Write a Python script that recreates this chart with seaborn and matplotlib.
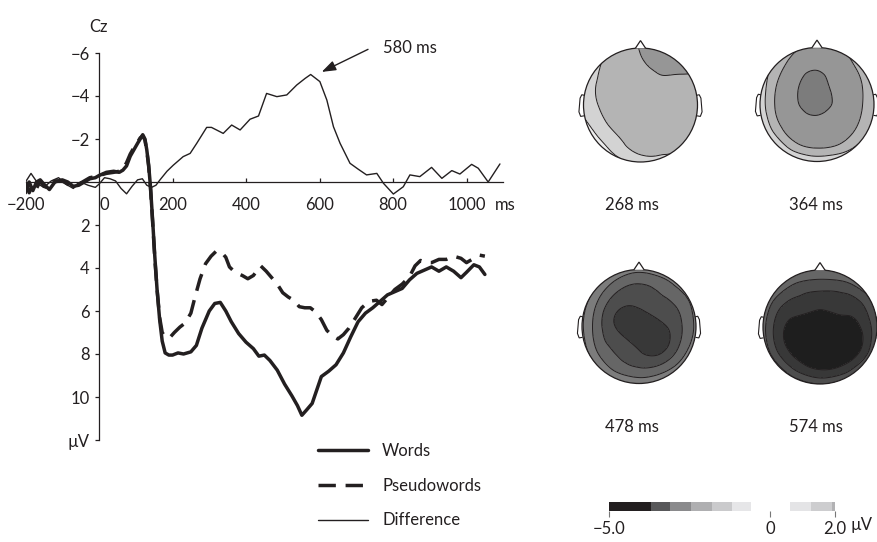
import numpy as np
import matplotlib
matplotlib.use("Agg")
import matplotlib.pyplot as plt
import matplotlib.tri as mtri
import seaborn as sns
from matplotlib.patches import Circle, Polygon
from matplotlib.colors import ListedColormap, BoundaryNorm
from matplotlib.cm import ScalarMappable
from matplotlib.ticker import NullLocator

# ---------------- data ----------------
words_t = [-200, -190, -180, -170, -160, -150, -135, -120, -100, -85, -70, -55, -40, -25, -10,
           0, 20, 40, 55, 65, 75, 85, 95, 105, 112, 119, 125, 130, 135, 140, 146, 152, 158, 165, 172,
           180, 190, 200, 215, 230, 250, 265, 280, 300, 315, 330, 345, 360, 380, 400, 420, 435, 450,
           465, 485, 505, 525, 540, 552, 565, 580, 592, 605, 625, 645, 665, 685, 705, 725, 745, 765,
           785, 805, 825, 845, 865, 885, 905, 925, 945, 965, 985, 1000, 1020, 1035, 1050]
words_v = [0.5, 0.0, 0.4, 0.0, -0.1, 0.1, 0.35, 0.0, -0.1, 0.0, 0.2, 0.15, 0.0, -0.15, -0.2,
           -0.3, -0.45, -0.5, -0.45, -0.55, -0.75, -1.2, -1.5, -1.8, -2.0, -2.2, -2.0, -1.5, -0.8, 0.2,
           1.8, 3.5, 5.0, 6.4, 7.4,
           7.95, 8.05, 8.05, 7.95, 8.0, 7.9, 7.6, 6.8, 6.0, 5.65, 5.6, 6.0, 6.5, 7.05, 7.45, 7.75, 8.1,
           8.05, 8.3, 8.75, 9.4, 9.95, 10.4, 10.85, 10.6, 10.3, 9.7, 9.05, 8.8, 8.5, 7.95, 7.2, 6.5,
           6.1, 5.85, 5.55, 5.25, 5.1, 4.95, 4.55, 4.25, 4.1, 3.95, 4.15, 3.95, 4.15, 4.45, 4.2, 3.85,
           3.95, 4.3]

pseudo_t = [-200, -190, -180, -170, -160, -150, -135, -120, -100, -85, -70, -55, -40, -25, -10,
            0, 20, 40, 55, 65, 75, 85, 95, 105, 112, 119, 125, 130, 135, 140, 146, 152, 158, 165, 172,
            180, 192, 205, 220, 235, 250, 262, 275, 290, 305, 320, 335, 345, 355, 370, 390, 405, 420,
            440, 455, 470, 485, 500, 515, 530, 545, 560, 575, 590, 605, 620, 635, 650, 665, 680, 695,
            715, 735, 755, 770, 785, 805, 825, 845, 860, 875, 890, 905, 925, 945, 965, 985, 1000,
            1020, 1035, 1050]
pseudo_v = [0.0, 0.5, 0.1, 0.3, -0.05, 0.2, 0.3, -0.05, -0.05, 0.1, 0.25, 0.1, -0.05, -0.2, -0.25,
            -0.3, -0.4, -0.45, -0.5, -0.6, -0.9, -1.3, -1.6, -1.85, -2.05, -2.15, -1.95, -1.45, -0.75,
            0.25, 1.9, 3.6, 5.0, 6.3, 7.0,
            7.2, 7.25, 7.0, 6.75, 6.55, 6.1, 5.3, 4.5, 3.8, 3.45, 3.2, 3.3, 3.5, 3.95, 4.2, 4.35, 4.5,
            4.35, 3.9, 4.15, 4.45, 4.75, 5.15, 5.35, 5.5, 5.8, 5.85, 5.85, 6.05, 6.4, 6.9, 7.15, 7.3,
            7.1, 6.8, 6.4, 5.85, 5.55, 5.5, 5.7, 5.4, 5.0, 4.75, 4.4, 3.9, 3.65, 3.75, 3.75, 3.6, 3.6,
            3.45, 3.55, 3.75, 3.55, 3.4, 3.45]

diff_t = [-200, -185, -165, -150, -130, -110, -90, -70, -50, -30, -10, 0, 15, 30, 45, 60, 75, 90,
          105, 118, 130, 143, 155, 166, 185, 202, 229, 248, 266, 293, 306, 329, 338, 361, 384, 411,
          434, 456, 484, 511, 538, 561, 576, 601, 620, 638, 656, 683, 705, 728, 756, 774, 801, 828,
          846, 873, 905, 933, 960, 982, 1014, 1032, 1059, 1091]
diff_v = [0.0, -0.4, 0.1, 0.25, -0.05, -0.2, 0.1, 0.3, 0.0, 0.15, 0.25, 0.1, -0.2, -0.15, -0.05,
          0.3, 0.55, 0.2, -0.1, -0.15, 0.15, 0.25, 0.15, -0.1, -0.5, -0.78, -1.18, -1.33, -1.8,
          -2.54, -2.54, -2.34, -2.26, -2.65, -2.42, -2.92, -3.07, -4.12, -3.97, -4.05, -4.51, -4.82,
          -5.0, -4.67, -3.81, -2.57, -1.8, -0.87, -0.6, -0.33, -0.4, 0.06, 0.56, 0.22, -0.33, -0.25,
          -0.68, -0.17, -0.53, -0.37, -0.82, -0.64, 0.0, -0.84]

series_names = ["Words", "Pseudowords", "Difference"]

x_ticks = [-200, 0, 200, 400, 600, 800, 1000]
x_ticklabels = ["\u2212200", "0", "200", "400", "600", "800", "1000"]
y_ticks = [-6, -4, -2, 2, 4, 6, 8, 10, 12]
y_ticklabels = ["\u22126", "\u22124", "\u22122", "2", "4", "6", "8", "10", "\u00b5V"]

peak_label = "580 ms"
peak_xy = (606, -5.12)        # arrow head (ms, uV)
peak_tail = (732, -6.17)      # arrow tail

# topographic maps: sample rings (radius in head radii, number of points, clockwise from nose)
topo_ring_r = [0.0, 0.45, 0.8, 1.15]
topo_ring_n = [1, 8, 12, 16]
# values (uV): centre, ring1 (8), ring2 (12), ring3 (16)
topo_268 = [[-1.75],
            [-1.85, -1.9, -1.8, -1.75, -1.7, -1.65, -1.7, -1.75],
            [-1.97, -2.1, -1.9, -1.8, -1.7, -1.6, -1.6, -1.35, -1.3, -1.45, -1.55, -1.65],
            [-2.05, -2.3, -2.3, -1.9, -1.8, -1.7, -1.5, -1.35, -0.85, -0.6, -0.4, -0.5, -1.1,
             -1.3, -1.45, -1.65]]
topo_364 = [[-2.65],
            [-2.6, -2.4, -2.35, -2.3, -2.35, -2.35, -2.4, -2.5],
            [-2.3, -2.2, -2.1, -2.0, -2.0, -2.0, -1.9, -1.9, -1.85, -1.85, -2.0, -2.2],
            [-1.95, -1.95, -1.75, -1.5, -1.4, -1.3, -1.0, -0.5, -0.3, -0.3, -0.3, -0.4, -0.5, -0.8,
             -1.4, -1.8]]
topo_478 = [[-4.35],
            [-3.85, -3.75, -4.05, -4.3, -3.95, -3.75, -3.95, -4.0],
            [-3.4, -3.35, -3.4, -3.4, -3.45, -3.4, -3.3, -3.25, -3.15, -3.05, -3.15, -3.3],
            [-2.3, -2.3, -2.4, -2.5, -2.5, -2.4, -2.3, -2.1, -2.0, -1.9, -1.9, -1.9, -2.0, -2.0,
             -2.1, -2.2]]
topo_574 = [[-4.85],
            [-4.3, -4.4, -4.7, -4.9, -4.85, -4.8, -4.7, -4.35],
            [-3.6, -3.8, -4.1, -4.3, -4.55, -4.45, -4.35, -4.25, -4.2, -4.05, -3.9, -3.7],
            [-2.6, -2.6, -2.8, -2.9, -3.0, -3.0, -2.9, -2.8, -2.7, -2.7, -2.7, -2.7, -2.7, -2.7,
             -2.6, -2.6]]
topo_maps = [topo_268, topo_364, topo_478, topo_574]
topo_labels = ["268 ms", "364 ms", "478 ms", "574 ms"]
topo_levels = [-5.5, -5.0, -4.5, -4.0, -3.5, -3.0, -2.5, -2.0, -1.5, -1.0, -0.5, 0.0]
topo_colors = ["#141414", "#1e1e1e", "#383838", "#4d4d4d", "#666666", "#7c7c7c",
               "#969696", "#b4b4b4", "#d3d3d3", "#ececec", "#ffffff"]

cbar_bounds = [-5.0, -3.7, -3.1, -2.45, -1.8, -1.2, -0.6, 0.6, 1.25, 1.9, 2.0]
cbar_colors = ["#231f20", "#58585a", "#8a8a8c", "#afafb1", "#cacacc", "#e6e6e8",
               "#ffffff", "#e4e4e6", "#cdcdcf", "#b2b2b4"]
cbar_ticks = [-5.0, 0.0, 2.0]
cbar_ticklabels = ["\u22125.0", "0", "2.0"]

# ---------------- style ----------------
sns.set_theme(style="white")
plt.rcParams["font.family"] = ["Lato", "DejaVu Sans"]
plt.rcParams["contour.negative_linestyle"] = "solid"
INK = "#231f20"
plt.rcParams["text.color"] = INK

W, H = 877, 542
fig = plt.figure(figsize=(W / 100, H / 100), dpi=100)
fig.patch.set_facecolor("white")


def px_rect(x0, y0, x1, y1):
    return [x0 / W, 1 - y1 / H, (x1 - x0) / W, (y1 - y0) / H]


# ---------------- ERP panel ----------------
ax = fig.add_axes(px_rect(25.5, 46.55, 503.25, 440))
ax.set_facecolor("none")
sns.lineplot(x=diff_t, y=diff_v, ax=ax, color=INK, linewidth=1.0, label=series_names[2],
             sort=False, estimator=None)
sns.lineplot(x=pseudo_t, y=pseudo_v, ax=ax, color=INK, linewidth=2.5, linestyle=(0, (5, 2.8)),
             label=series_names[1], sort=False, estimator=None)
sns.lineplot(x=words_t, y=words_v, ax=ax, color=INK, linewidth=2.5, label=series_names[0],
             sort=False, estimator=None)

ax.set_xlim(-200, 1100)
ax.set_ylim(12, -6.3)
ax.set_xlabel("")
ax.set_ylabel("")
for s in ["top", "right"]:
    ax.spines[s].set_visible(False)
ax.spines["left"].set_position(("data", 0))
ax.spines["left"].set_bounds(-6, 12)
ax.spines["bottom"].set_position(("data", 0))
ax.spines["bottom"].set_bounds(-200, 1100)
for s in ["left", "bottom"]:
    ax.spines[s].set_color(INK)
    ax.spines[s].set_linewidth(0.9)

ax.set_yticks(y_ticks)
ax.set_yticklabels(y_ticklabels)
ax.set_xticks(x_ticks)
ax.set_xticklabels(x_ticklabels)
ax.tick_params(axis="y", direction="out", length=3.2, width=0.9, pad=3.5, labelsize=12,
               colors=INK, left=True)
ax.tick_params(axis="x", direction="in", length=3, width=0.9, pad=10.5, labelsize=12,
               colors=INK, bottom=True)
xt = ax.xaxis.get_major_ticks()
xt[0].tick1line.set_visible(False)
xt[1].tick1line.set_visible(False)
ax.get_xticklabels()[1].set_horizontalalignment("left")
ax.annotate("ms", xy=(1000, 0), xycoords="data", xytext=(20.5, -10.5), textcoords="offset points",
            ha="left", va="top", fontsize=12, color=INK)

ax.text(0, -7.2, "Cz", ha="center", va="center", fontsize=12, color=INK)
ax.annotate("", xy=peak_xy, xytext=peak_tail,
            arrowprops=dict(arrowstyle="-|>,head_length=0.85,head_width=0.3", color=INK, lw=1.0,
                            shrinkA=0, shrinkB=0, mutation_scale=10))
ax.text(773, -6.22, peak_label, ha="left", va="center", fontsize=12, color=INK)

h, l = ax.get_legend_handles_labels()
order = [l.index(n) for n in series_names]
ax.legend([h[i] for i in order], series_names, loc="upper left",
          bbox_to_anchor=(318 / W, 1 - 443 / H), bbox_transform=fig.transFigure,
          frameon=False, handlelength=3.0, handletextpad=0.85, labelspacing=1.12,
          borderpad=0, borderaxespad=0, fontsize=12, labelcolor=INK)

# ---------------- topographic maps ----------------
topo_cmap = ListedColormap(topo_colors)
topo_norm = BoundaryNorm(topo_levels, topo_cmap.N)

head_centers = [(640.5, 105), (817, 104.5), (639, 326.5), (820, 327)]
label_centers = [(632, 205.5), (815.5, 205.5), (632, 427.5), (815.5, 427.5)]
R = 57.0
half = 75.0

px_, py_ = [], []
for r, n in zip(topo_ring_r, topo_ring_n):
    ang = np.deg2rad(np.arange(n) * 360.0 / n)
    px_.extend(r * np.sin(ang))
    py_.extend(r * np.cos(ang))
triang = mtri.Triangulation(np.array(px_), np.array(py_))
refiner = mtri.UniformTriRefiner(triang)

nose = [(-0.09, 0.995), (0.0, 1.13), (0.09, 0.995)]
ear_l = [(-0.985, 0.17), (-1.03, 0.18), (-1.06, 0.12), (-1.07, 0.0), (-1.08, -0.12),
         (-1.05, -0.2), (-0.99, -0.19)]
ear_r = [(-x, y) for x, y in ear_l]

for (cx, cy), vals, lab, (lx, ly) in zip(head_centers, topo_maps, topo_labels, label_centers):
    hax = fig.add_axes(px_rect(cx - half, cy - half, cx + half, cy + half))
    lim = half / R
    hax.set_xlim(-lim, lim)
    hax.set_ylim(-lim, lim)
    hax.set_aspect("equal")
    hax.axis("off")
    z = np.concatenate([np.array(v, dtype=float) for v in vals])
    tri_f, z_f = refiner.refine_field(z, subdiv=4)
    z_f = np.clip(z_f, topo_levels[0] + 0.01, topo_levels[-1] - 0.01)
    cf = hax.tricontourf(tri_f, z_f, levels=topo_levels, cmap=topo_cmap, norm=topo_norm)
    cl = hax.tricontour(tri_f, z_f, levels=topo_levels, colors=INK, linewidths=0.7)
    clip = Circle((0, 0), 1.0, transform=hax.transData)
    cf.set_clip_path(clip)
    cl.set_clip_path(clip)
    hax.add_patch(Circle((0, 0), 1.0, fill=False, ec=INK, lw=0.9, zorder=5))
    hax.add_patch(Polygon(nose, closed=False, fc="white", ec=INK, lw=0.9, zorder=5))
    hax.add_patch(Polygon(ear_l, closed=False, fill=False, ec=INK, lw=0.8, zorder=5))
    hax.add_patch(Polygon(ear_r, closed=False, fill=False, ec=INK, lw=0.8, zorder=5))
    fig.text(lx / W, 1 - ly / H, lab, ha="center", va="center", fontsize=12, color=INK)

# ---------------- colour bar ----------------
cax = fig.add_axes(px_rect(609, 502, 835, 511))
cb_cmap = ListedColormap(cbar_colors)
cb_norm = BoundaryNorm(cbar_bounds, cb_cmap.N)
cb = fig.colorbar(ScalarMappable(norm=cb_norm, cmap=cb_cmap), cax=cax, orientation="horizontal",
                  spacing="proportional", ticks=cbar_ticks)
cb.outline.set_visible(False)
cb.set_ticklabels(cbar_ticklabels)
cax.xaxis.set_minor_locator(NullLocator())
cax.tick_params(axis="x", which="major", length=4, width=0.8, color="#777777", pad=3,
                labelsize=12, labelcolor=INK)
fig.text(851 / W, 1 - 525 / H, "\u00b5V", ha="left", va="center", fontsize=12, color=INK)

fig.savefig("out.png", dpi=100, facecolor="white")
